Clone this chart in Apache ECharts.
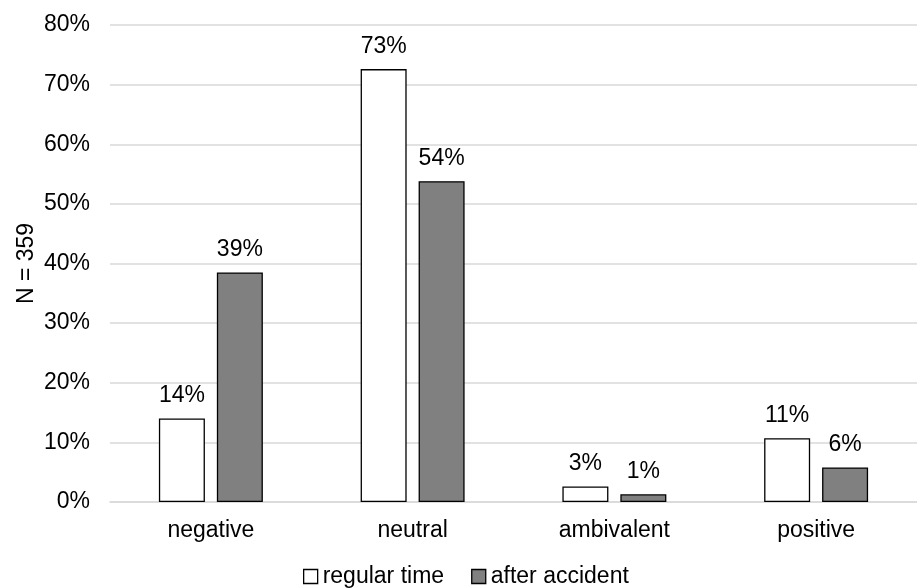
<!DOCTYPE html>
<html><head><meta charset="utf-8">
<script src="https://cdn.jsdelivr.net/npm/echarts@6/dist/echarts.min.js"></script>
<style>html,body{margin:0;padding:0;background:#fff}#c{width:917px;height:588px}</style>
</head><body><div id="c"></div>
<script>
const categories = ['negative', 'neutral', 'ambivalent', 'positive'];
const regularTime = [14.0, 72.6, 2.6, 10.7];
const afterAccident = [38.5, 53.8, 1.3, 5.8];
const yTicks = [0, 10, 20, 30, 40, 50, 60, 70, 80];
const seriesNames = ['regular time', 'after accident'];

const FONT = '"Liberation Sans", Arial, sans-serif';
const FS = 23;
const chart = echarts.init(document.getElementById('c'), null, {renderer: 'canvas'});
const lbl = {show: true, position: 'top', distance: 11, color: '#000', fontFamily: FONT, fontSize: FS,
  formatter: p => Math.round(p.value) + '%'};
chart.setOption({
  animation: false,
  backgroundColor: '#fff',
  grid: {left: 110, top: 25, width: 812, height: 477},
  legend: {
    top: 565, left: 303, itemWidth: 14, itemHeight: 14, itemGap: 27, padding: 0,
    textStyle: {fontFamily: FONT, fontSize: FS, color: '#000'},
    data: [
      {name: seriesNames[0], icon: 'rect', itemStyle: {color: '#fff', borderColor: '#000', borderWidth: 1.3}},
      {name: seriesNames[1], icon: 'rect', itemStyle: {color: '#808080', borderColor: '#000', borderWidth: 1.3}}
    ]
  },
  xAxis: {
    type: 'category', data: categories,
    axisLine: {show: true, lineStyle: {color: '#d9d9d9', width: 1.5}},
    axisTick: {show: false},
    axisLabel: {color: '#000', fontFamily: FONT, fontSize: FS, margin: 17}
  },
  yAxis: {
    type: 'value', min: yTicks[0], max: yTicks[yTicks.length-1], interval: 10,
    name: 'N = 359', nameLocation: 'middle', nameGap: 72, nameRotate: 90, nameMoveOverlap: false,
    nameTextStyle: {color: '#000', fontFamily: FONT, fontSize: FS},
    axisLine: {show: false}, axisTick: {show: false},
    splitLine: {lineStyle: {color: '#d9d9d9', width: 1.5}},
    axisLabel: {color: '#000', fontFamily: FONT, fontSize: FS, margin: 20, formatter: v => v + '%'}
  },
  series: [
    {name: seriesNames[0], type: 'bar', data: regularTime, barWidth: 46, barGap: '26%',
     itemStyle: {color: '#fff', borderColor: '#000', borderWidth: 1.3}, label: lbl},
    {name: seriesNames[1], type: 'bar', data: afterAccident, barWidth: 46, barGap: '26%',
     itemStyle: {color: '#808080', borderColor: '#000', borderWidth: 1.3}, label: lbl}
  ]
});
</script></body></html>
